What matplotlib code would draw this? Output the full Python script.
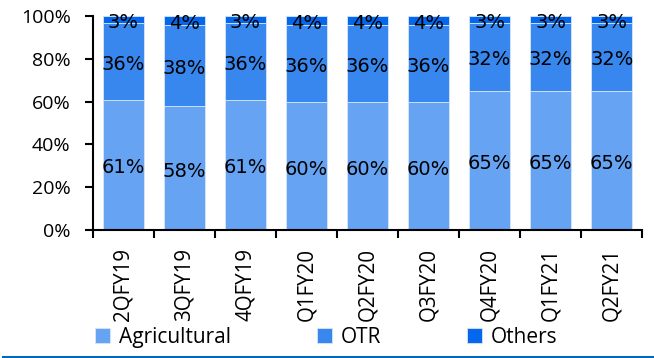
import numpy as np
import matplotlib.pyplot as plt
from matplotlib.lines import Line2D

quarters = ["2QFY19", "3QFY19", "4QFY19", "Q1FY20", "Q2FY20", "Q3FY20", "Q4FY20", "Q1FY21", "Q2FY21"]
agricultural = [61, 58, 61, 60, 60, 60, 65, 65, 65]
otr = [36, 38, 36, 36, 36, 36, 32, 32, 32]
others = [3, 4, 3, 4, 4, 4, 3, 3, 3]

series = [("Agricultural", agricultural, "#66A3F3"),
          ("OTR", otr, "#3787EE"),
          ("Others", others, "#0467EE")]

axis_font = "Open Sans"

fig = plt.figure(figsize=(6.54, 3.58), dpi=100)
ax = fig.add_axes([0.142, 0.3575, 0.840, 0.5975])

x = np.arange(len(quarters))
bottom = np.zeros(len(quarters))
for name, vals, col in series:
    vals = np.array(vals, dtype=float)
    ax.bar(x, vals, 0.67, bottom=bottom, color=col, edgecolor="#d6e6fb",
           linewidth=0.6, label=name)
    for xi, b, v in zip(x, bottom, vals):
        ax.text(xi, b + v / 2 - 1.5, "%d%%" % v, ha="center", va="center",
                fontsize=14, color="black", family="DejaVu Sans")
    bottom += vals

ax.set_xlim(-0.5, len(quarters) - 0.5)
ax.set_ylim(0, 100)
ax.set_yticks(range(0, 101, 20))
ax.set_yticklabels(["%d%%" % v for v in range(0, 101, 20)], family=axis_font, fontsize=14)

# category labels centred on bars, tick marks between bars
ax.set_xticks(x)
ax.set_xticklabels(quarters, rotation=90, family=axis_font, fontsize=14.8)
ax.tick_params(axis="x", which="major", length=0, pad=13)
ax.set_xticks(np.arange(-0.5, len(quarters)), minor=True)
ax.tick_params(axis="x", which="minor", length=6, width=1.5, direction="out")
ax.tick_params(axis="y", length=6, width=1.5, direction="out", pad=10)

for s in ["top", "right"]:
    ax.spines[s].set_visible(False)
for s in ["left", "bottom"]:
    ax.spines[s].set_linewidth(1.5)

fig.legend(loc="center left", bbox_to_anchor=(0.145, 0.058), ncol=3,
           frameon=False, handlelength=0.72, handleheight=0.72, handletextpad=0.45,
           columnspacing=4.1, prop={"family": axis_font, "size": 15},
           borderaxespad=0, borderpad=0)

fig.add_artist(Line2D([0.005, 1.0], [0.004, 0.004], color="#0068B8", linewidth=2.2))

fig.savefig("out.png", dpi=100)
